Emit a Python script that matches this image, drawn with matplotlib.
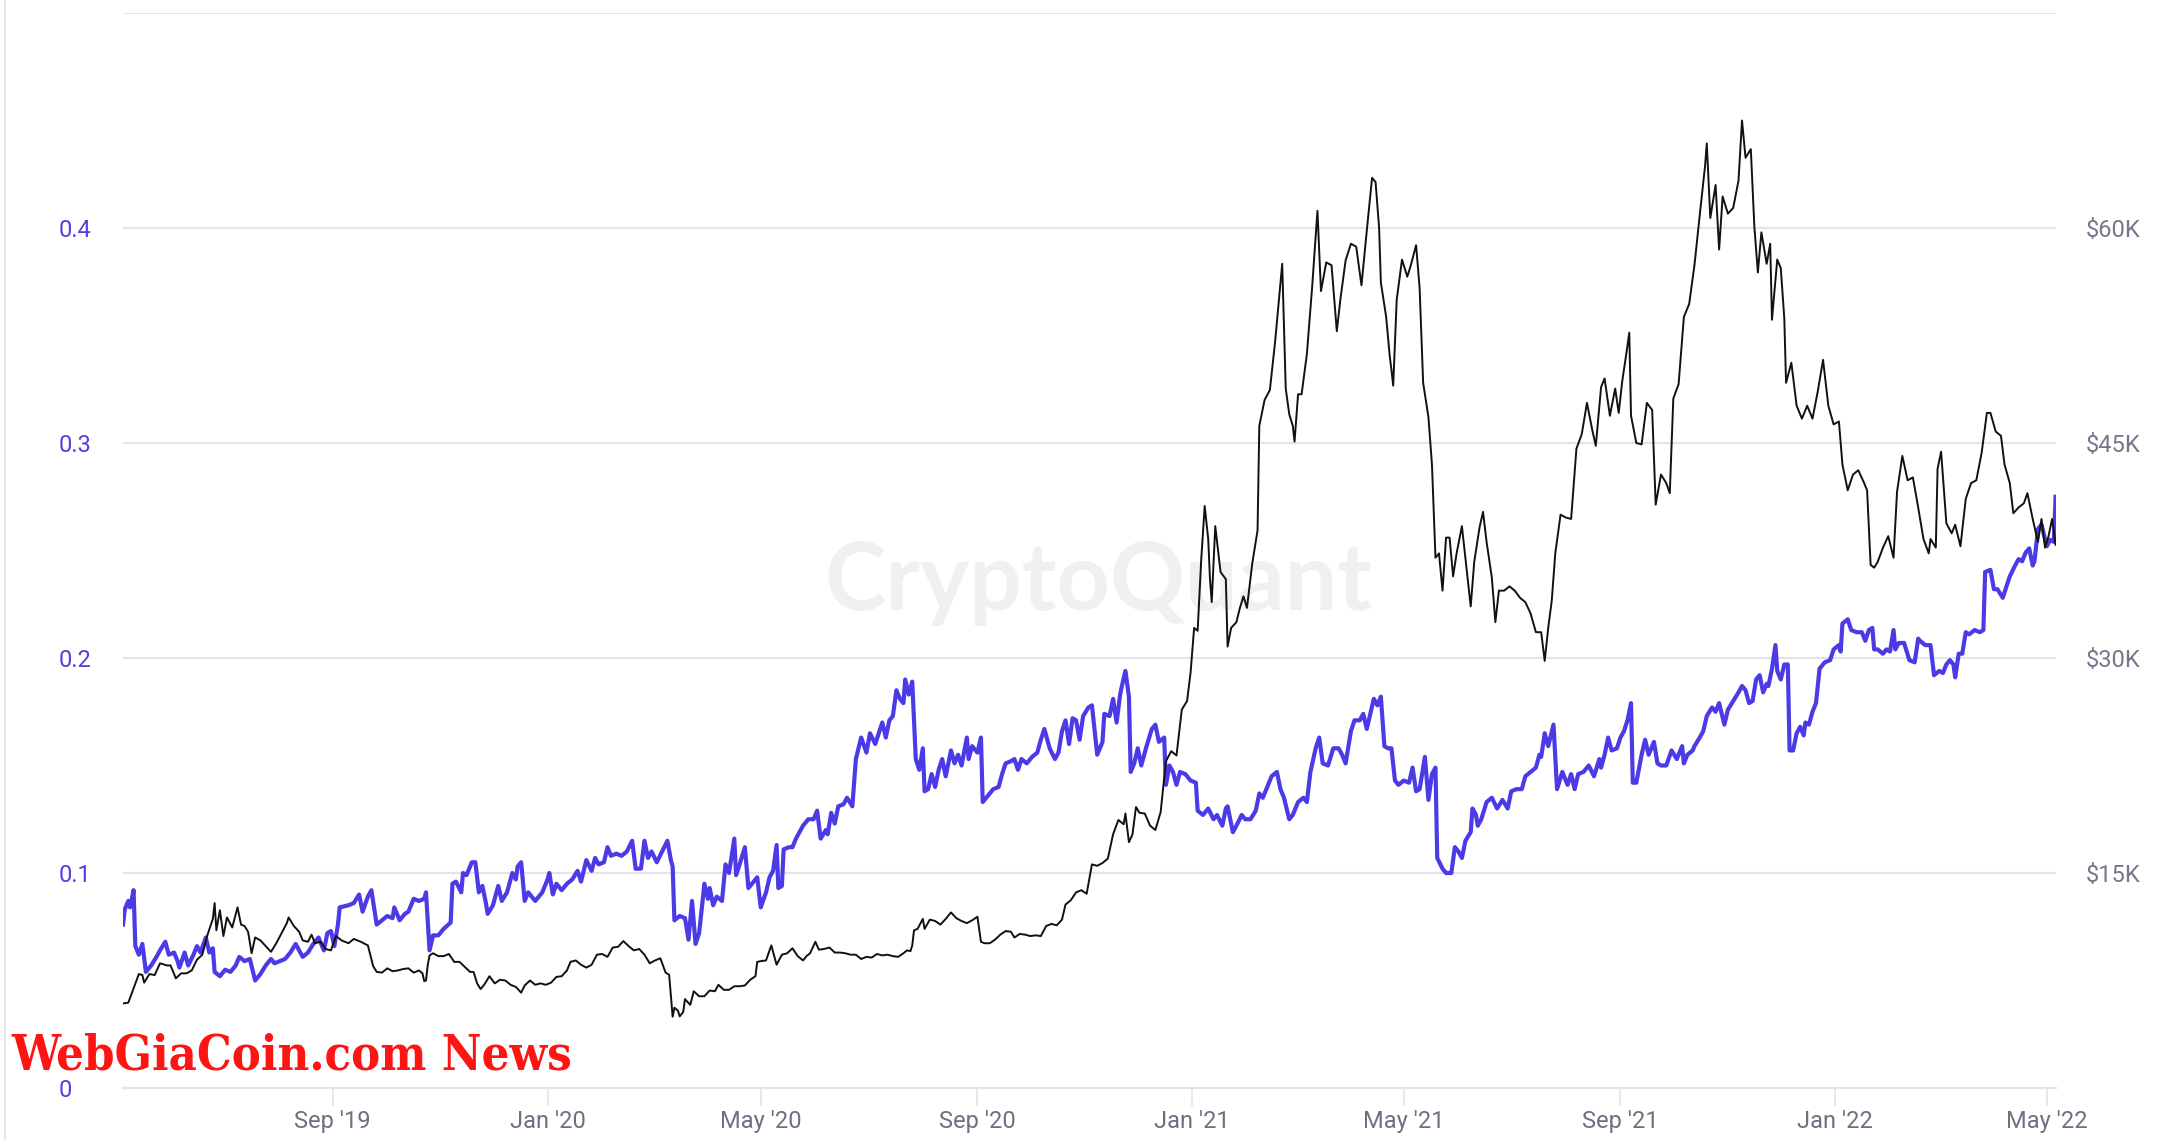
import numpy as np
import pandas as pd
import matplotlib
matplotlib.use("Agg")
import matplotlib.pyplot as plt
import matplotlib.dates as mdates
from matplotlib.lines import Line2D

# Day offsets are counted from this date
START = pd.Timestamp("2019-05-01")

# Blue ratio series (left axis)
ratio_day = [
    4, 5, 7, 8, 10, 11, 13, 15, 17, 18, 20, 23,
    25, 28, 30, 33, 35, 36, 39, 41, 44, 46, 48, 51,
    53, 55, 56, 59, 62, 65, 68, 70, 73, 76, 79, 82,
    85, 88, 90, 93, 96, 99, 102, 104, 106, 109, 112, 115,
    118, 120, 122, 124, 126, 127, 132, 135, 138, 140, 143, 145,
    148, 151, 154, 157, 158, 161, 164, 166, 169, 172, 175, 176,
    178, 180, 183, 186, 190, 191, 193, 196, 197, 199, 202, 204,
    206, 208, 210, 211, 214, 217, 219, 222, 225, 227, 228, 230,
    232, 234, 238, 242, 245, 246, 248, 250, 253, 256, 259, 262,
    264, 267, 270, 272, 274, 277, 279, 281, 284, 287, 290, 293,
    295, 298, 300, 302, 304, 307, 310, 313, 315, 316, 317, 320,
    323, 325, 327, 329, 331, 333, 334, 336, 337, 339, 341, 344,
    346, 348, 351, 352, 354, 357, 359, 361, 364, 366, 369, 371,
    373, 375, 376, 378, 379, 382, 384, 386, 388, 390, 393, 396,
    398, 400, 403, 404, 406, 408, 410, 413, 415, 418, 420, 423,
    426, 428, 431, 433, 435, 437, 439, 441, 443, 445, 447, 448,
    450, 452, 454, 456, 458, 459, 461, 463, 465, 467, 469, 471,
    473, 474, 476, 478, 480, 483, 484, 486, 489, 491, 492, 495,
    498, 501, 503, 505, 508, 510, 512, 514, 517, 520, 523, 525,
    527, 530, 533, 535, 537, 539, 541, 543, 545, 547, 549, 552,
    554, 557, 560, 561, 564, 566, 568, 570, 571, 573, 575, 576,
    578, 580, 582, 585, 588, 590, 592, 595, 596, 598, 600, 602,
    604, 607, 610, 613, 614, 617, 620, 623, 625, 628, 630, 631,
    634, 636, 639, 641, 644, 647, 649, 651, 654, 656, 659, 661,
    663, 666, 668, 671, 674, 676, 678, 681, 683, 685, 688, 691,
    694, 696, 698, 701, 703, 706, 708, 710, 712, 714, 716, 718,
    720, 722, 724, 726, 728, 731, 734, 736, 738, 740, 743, 745,
    747, 749, 750, 753, 755, 758, 760, 762, 764, 766, 769, 770,
    772, 773, 775, 778, 781, 784, 787, 790, 792, 795, 798, 800,
    803, 806, 808, 809, 811, 813, 816, 818, 821, 824, 826, 828,
    830, 833, 836, 839, 842, 843, 845, 847, 849, 852, 854, 856,
    858, 860, 861, 863, 866, 868, 870, 873, 875, 877, 880, 883,
    886, 889, 890, 892, 895, 896, 899, 901, 903, 906, 908, 910,
    913, 915, 918, 921, 923, 925, 927, 929, 931, 933, 935, 937,
    938, 940, 942, 943, 945, 947, 949, 950, 952, 954, 956, 958,
    959, 961, 963, 965, 967, 970, 973, 975, 978, 979, 980, 983,
    985, 988, 991, 993, 995, 997, 998, 1000, 1003, 1005, 1007, 1009,
    1010, 1012, 1015, 1018, 1021, 1023, 1024, 1027, 1030, 1032, 1035, 1037,
    1039, 1041, 1043, 1044, 1046, 1048, 1050, 1052, 1055, 1058, 1060, 1061,
    1064, 1066, 1068, 1071, 1073, 1075, 1078, 1080, 1082, 1084, 1086, 1088,
    1089, 1091, 1093, 1096, 1098, 1100, 1101,
]
ratio_val = [
    .076, .083, .087, .084, .092, .066, .062, .067, .054, .055, .057, .061,
    .064, .068, .062, .063, .059, .056, .063, .057, .062, .066, .063, .070,
    .063, .065, .054, .052, .055, .054, .057, .061, .059, .060, .050, .053,
    .057, .060, .058, .059, .060, .063, .067, .064, .061, .063, .067, .070,
    .064, .072, .073, .066, .076, .084, .085, .086, .090, .082, .089, .092,
    .076, .078, .080, .079, .084, .078, .081, .082, .088, .087, .088, .091,
    .064, .071, .071, .074, .077, .095, .096, .091, .100, .099, .105, .105,
    .091, .094, .086, .081, .085, .094, .087, .091, .100, .097, .103, .105,
    .087, .091, .087, .091, .097, .100, .090, .095, .092, .095, .097, .101,
    .096, .106, .101, .107, .104, .105, .112, .108, .109, .108, .110, .115,
    .102, .102, .115, .107, .110, .105, .110, .115, .106, .103, .078, .080,
    .079, .069, .087, .067, .072, .087, .095, .088, .093, .085, .089, .087,
    .104, .100, .116, .099, .104, .112, .093, .095, .098, .084, .091, .098,
    .101, .113, .093, .094, .111, .112, .112, .116, .119, .122, .125, .125,
    .129, .116, .120, .118, .128, .123, .131, .132, .135, .131, .153, .163,
    .156, .165, .160, .165, .170, .163, .171, .173, .185, .181, .179, .190,
    .183, .189, .153, .148, .158, .138, .139, .146, .140, .148, .153, .145,
    .153, .157, .151, .155, .150, .163, .153, .159, .156, .163, .133, .136,
    .139, .140, .146, .151, .152, .153, .148, .153, .151, .154, .156, .162,
    .167, .158, .153, .156, .166, .171, .160, .172, .171, .162, .173, .177,
    .178, .155, .161, .174, .173, .181, .170, .183, .187, .194, .182, .147,
    .151, .158, .150, .159, .167, .169, .161, .163, .141, .150, .147, .141,
    .147, .146, .143, .142, .129, .127, .130, .125, .127, .122, .130, .131,
    .119, .122, .127, .125, .125, .129, .137, .135, .141, .145, .147, .139,
    .135, .125, .127, .133, .135, .133, .147, .158, .163, .151, .150, .158,
    .158, .155, .151, .166, .171, .171, .174, .167, .174, .181, .178, .182,
    .159, .158, .158, .143, .141, .143, .142, .149, .138, .139, .154, .134,
    .146, .149, .107, .102, .100, .100, .112, .110, .107, .115, .119, .130,
    .127, .122, .125, .133, .135, .130, .134, .130, .138, .139, .139, .145,
    .147, .149, .155, .154, .165, .159, .169, .139, .147, .141, .146, .139,
    .146, .147, .150, .145, .153, .149, .155, .163, .157, .158, .163, .166,
    .171, .179, .142, .142, .155, .162, .155, .161, .151, .150, .150, .157,
    .153, .159, .151, .155, .157, .159, .163, .166, .173, .177, .175, .179,
    .169, .176, .180, .184, .187, .185, .179, .180, .190, .192, .184, .188,
    .187, .195, .206, .194, .190, .197, .197, .157, .157, .165, .168, .164,
    .170, .169, .175, .179, .195, .198, .199, .204, .206, .203, .216, .218,
    .213, .212, .212, .208, .213, .214, .204, .204, .202, .204, .203, .213,
    .204, .207, .207, .199, .198, .209, .208, .206, .206, .192, .194, .193,
    .197, .199, .197, .191, .202, .202, .212, .211, .213, .212, .213, .240,
    .241, .232, .232, .228, .233, .238, .243, .246, .245, .249, .251, .243,
    .245, .260, .262, .252, .255, .254, .275,
]

# BTC price in $K (right axis)
price_day = [
    4, 7, 10, 13, 15, 16, 19, 22, 25, 29, 31, 34,
    37, 40, 43, 46, 49, 52, 55, 56, 57, 59, 61, 63,
    66, 69, 71, 73, 75, 77, 79, 82, 85, 88, 91, 94,
    97, 98, 101, 104, 106, 109, 111, 113, 116, 119, 122, 125,
    128, 132, 135, 139, 143, 146, 148, 151, 154, 157, 160, 163,
    166, 169, 172, 174, 175, 176, 177, 178, 180, 183, 186, 189,
    192, 195, 198, 201, 203, 205, 207, 209, 212, 215, 218, 221,
    224, 227, 230, 232, 235, 238, 241, 244, 247, 250, 253, 256,
    258, 261, 264, 267, 270, 273, 276, 279, 282, 285, 288, 291,
    294, 297, 300, 303, 306, 309, 312, 314, 316, 317, 319, 320,
    322, 323, 326, 328, 331, 334, 337, 340, 342, 345, 348, 351,
    354, 357, 360, 363, 364, 366, 369, 372, 375, 378, 381, 384,
    387, 390, 392, 394, 397, 399, 402, 405, 408, 411, 414, 417,
    420, 423, 426, 429, 432, 435, 438, 441, 444, 447, 449, 451,
    452, 453, 455, 458, 459, 462, 465, 468, 471, 474, 477, 480,
    483, 486, 489, 491, 493, 496, 499, 502, 505, 508, 510, 513,
    516, 519, 522, 525, 528, 531, 534, 537, 539, 542, 545, 548,
    551, 554, 557, 560, 563, 566, 569, 572, 573, 575, 577, 579,
    581, 584, 587, 590, 593, 596, 599, 602, 605, 608, 610, 612,
    614, 616, 618, 620, 621, 622, 624, 627, 630, 631, 633, 636,
    638, 640, 642, 645, 648, 649, 652, 655, 658, 661, 662, 664,
    666, 668, 669, 671, 673, 676, 679, 682, 684, 687, 690, 693,
    695, 698, 701, 704, 707, 710, 713, 715, 717, 718, 721, 723,
    724, 725, 727, 730, 733, 735, 738, 740, 742, 745, 747, 749,
    751, 753, 755, 757, 759, 761, 764, 767, 769, 771, 774, 776,
    778, 781, 783, 785, 788, 791, 794, 797, 800, 803, 806, 809,
    811, 813, 815, 817, 820, 823, 826, 829, 832, 835, 838, 840,
    843, 845, 848, 851, 853, 855, 858, 859, 860, 863, 866, 869,
    872, 874, 877, 880, 882, 884, 887, 890, 893, 896, 899, 902,
    903, 905, 908, 910, 912, 915, 918, 921, 923, 925, 928, 930,
    932, 934, 937, 939, 940, 943, 945, 947, 948, 951, 954, 957,
    960, 963, 966, 969, 972, 975, 978, 980, 983, 986, 989, 992,
    994, 996, 998, 1000, 1003, 1006, 1009, 1011, 1014, 1017, 1020, 1023,
    1026, 1029, 1030, 1033, 1034, 1036, 1039, 1042, 1044, 1047, 1050, 1053,
    1056, 1059, 1062, 1064, 1067, 1070, 1072, 1075, 1077, 1080, 1083, 1085,
    1088, 1091, 1093, 1095, 1097, 1099, 1101,
]
price_k = [
    5.9, 5.95, 6.95, 7.95, 7.88, 7.35, 7.95, 7.88, 8.7, 8.55, 8.55, 7.65,
    8.0, 8.0, 8.2, 8.95, 9.3, 10.7, 11.8, 12.9, 11.0, 12.4, 10.6, 11.9,
    11.2, 12.6, 11.4, 11.3, 10.9, 9.4, 10.5, 10.3, 9.9, 9.5, 10.1, 10.8,
    11.5, 11.9, 11.3, 10.9, 10.3, 10.2, 10.7, 10.1, 10.2, 9.7, 9.6, 10.6,
    10.3, 10.1, 10.4, 10.2, 9.95, 8.5, 8.1, 8.05, 8.35, 8.15, 8.2, 8.3,
    8.35, 8.05, 8.2, 8.0, 7.45, 7.5, 8.6, 9.25, 9.4, 9.2, 9.2, 9.35,
    8.8, 8.8, 8.45, 8.1, 8.1, 7.3, 6.9, 7.2, 7.8, 7.3, 7.55, 7.5,
    7.2, 7.05, 6.65, 7.15, 7.5, 7.2, 7.3, 7.2, 7.35, 7.75, 7.8, 8.2,
    8.8, 8.9, 8.6, 8.4, 8.6, 9.3, 9.35, 9.15, 9.8, 9.85, 10.25, 9.9,
    9.6, 9.7, 9.3, 8.7, 8.9, 9.05, 8.05, 7.9, 4.97, 5.6, 5.4, 5.0,
    5.3, 6.2, 5.8, 6.75, 6.4, 6.4, 6.8, 6.75, 7.2, 6.85, 6.85, 7.1,
    7.1, 7.15, 7.55, 7.8, 8.8, 8.85, 8.9, 9.95, 8.6, 9.3, 9.4, 9.75,
    9.2, 8.9, 9.2, 9.4, 10.2, 9.65, 9.7, 9.8, 9.45, 9.45, 9.4, 9.3,
    9.3, 9.0, 9.15, 9.1, 9.35, 9.25, 9.3, 9.2, 9.15, 9.4, 9.6, 9.55,
    9.95, 11.0, 11.1, 11.8, 11.1, 11.75, 11.65, 11.4, 11.8, 12.25, 11.85, 11.65,
    11.5, 11.7, 11.95, 10.2, 10.1, 10.1, 10.35, 10.7, 10.95, 10.9, 10.5, 10.75,
    10.7, 10.6, 10.65, 10.6, 11.3, 11.45, 11.35, 11.75, 12.8, 13.1, 13.65, 13.8,
    13.55, 15.6, 15.5, 15.7, 16.0, 17.7, 18.7, 18.4, 19.15, 17.15, 17.7, 19.6,
    19.2, 19.15, 18.3, 18.0, 19.25, 22.8, 23.5, 23.2, 26.4, 27.0, 29.0, 32.1,
    31.9, 36.8, 40.6, 38.3, 35.5, 33.9, 39.2, 36.0, 35.5, 30.8, 32.1, 32.5,
    33.5, 34.3, 33.5, 36.6, 38.9, 46.2, 48.0, 48.7, 52.1, 56.1, 57.5, 48.8,
    47.0, 46.2, 45.1, 48.4, 48.4, 51.2, 55.9, 61.2, 55.6, 57.6, 57.4, 52.8,
    55.0, 57.75, 58.9, 58.7, 56.0, 59.8, 63.5, 63.2, 60.0, 56.2, 53.8, 51.1,
    50.1, 49.0, 55.0, 57.8, 56.6, 57.4, 58.8, 55.8, 49.2, 46.8, 43.5, 37.0,
    37.3, 34.7, 38.4, 38.4, 35.7, 37.3, 39.2, 35.8, 33.6, 36.7, 39.1, 40.2,
    38.1, 35.6, 32.5, 34.7, 34.7, 35.0, 34.7, 34.2, 33.9, 33.1, 31.8, 31.8,
    29.8, 32.1, 34.0, 37.3, 40.0, 39.8, 39.7, 44.6, 45.6, 47.8, 45.9, 44.8,
    48.9, 49.5, 46.9, 48.8, 47.1, 49.3, 51.8, 52.7, 46.9, 45.0, 44.9, 47.8,
    47.3, 40.7, 42.8, 42.2, 41.5, 48.1, 49.1, 53.8, 54.7, 57.4, 60.9, 64.3,
    65.9, 60.7, 63.0, 58.5, 62.2, 61.0, 61.4, 63.3, 67.5, 64.9, 65.5, 60.1,
    56.9, 59.7, 57.5, 58.9, 53.6, 57.8, 57.2, 53.7, 49.2, 50.6, 47.6, 46.7,
    47.6, 46.7, 48.6, 50.8, 47.6, 46.3, 46.5, 43.5, 41.7, 42.8, 43.1, 42.3,
    41.7, 36.5, 36.3, 36.7, 37.7, 38.5, 37.0, 41.6, 44.1, 42.4, 42.6, 40.5,
    38.3, 37.3, 38.3, 37.7, 43.2, 44.4, 39.4, 38.7, 39.3, 37.8, 41.1, 42.2,
    42.4, 44.3, 47.1, 47.1, 45.8, 45.5, 43.5, 42.2, 40.1, 40.5, 40.8, 41.5,
    39.7, 38.1, 39.7, 37.7, 38.5, 39.7, 37.9,
]

left_ticks = [0, 0.1, 0.2, 0.3, 0.4, 0.5]
left_labels = ["0", "0.1", "0.2", "0.3", "0.4", ""]
right_ticks = [15, 30, 45, 60]
right_labels = ["$15K", "$30K", "$45K", "$60K"]

BLUE = "#4b3be6"
GRID = "#e3e3ea"
TICK_GREY = "#6f6f82"

plt.rcParams["font.family"] = ["Roboto", "DejaVu Sans"]

ratio_dates = START + pd.to_timedelta(ratio_day, unit="D")
price_dates = START + pd.to_timedelta(price_day, unit="D")

W, H = 2178, 1140
fig = plt.figure(figsize=(W / 100, H / 100), dpi=100)
ax = fig.add_axes([123 / W, 1 - 1088 / H, (2055.6 - 123) / W, 1075 / H])
ax2 = ax.twinx()

# watermark behind everything
ax.text(1098 / W, 1 - 610 / H, "CryptoQuant", transform=fig.transFigure,
        ha="center", va="baseline", fontsize=67, color="#f0f0f3",
        family="Lato", weight="bold", zorder=0.5)

ax.plot(ratio_dates, ratio_val, color=BLUE, lw=3.0, zorder=2,
        solid_joinstyle="round")
ax2.plot(price_dates, price_k, color="#111111", lw=1.4, zorder=3)

ax.set_ylim(0, 0.5)
ax2.set_ylim(0, 75)
ax.set_xlim(ratio_dates[0], ratio_dates[-1])

ax.set_yticks(left_ticks, labels=left_labels, ha="left")
ax2.set_yticks(right_ticks, labels=right_labels)

ax.yaxis.grid(True, color=GRID, lw=1.5)
ax.set_axisbelow(True)

for a in (ax, ax2):
    for s in a.spines.values():
        s.set_visible(False)
ax.spines["bottom"].set_visible(True)
ax.spines["bottom"].set_color(GRID)
ax.spines["bottom"].set_linewidth(1.5)

ax.xaxis.set_major_locator(mdates.MonthLocator(bymonth=[1, 5, 9]))
ax.xaxis.set_major_formatter(mdates.DateFormatter("%b '%y"))
ax.tick_params(axis="x", length=13, width=1.2, color=GRID, pad=3,
               labelsize=17, labelcolor=TICK_GREY)
ax.tick_params(axis="y", length=0, pad=46, labelsize=17, labelcolor="#5040e0")
ax2.tick_params(axis="y", length=0, pad=22, labelsize=17, labelcolor="#77778a")

# thin border on the far left of the screenshot
fig.add_artist(Line2D([4.5 / W, 4.5 / W], [0, 1], color="#e6e6ec", lw=1.5))

# red banner: heavy condensed slab letters
fig.text(11 / W, 1 - 1070 / H, "WebGiaCoin.com News", ha="left", va="baseline",
         fontsize=35, color="#ff1414", family="DejaVu Serif",
         weight="bold", stretch="condensed", zorder=10)

fig.savefig("out.png", dpi=100, facecolor="white")
